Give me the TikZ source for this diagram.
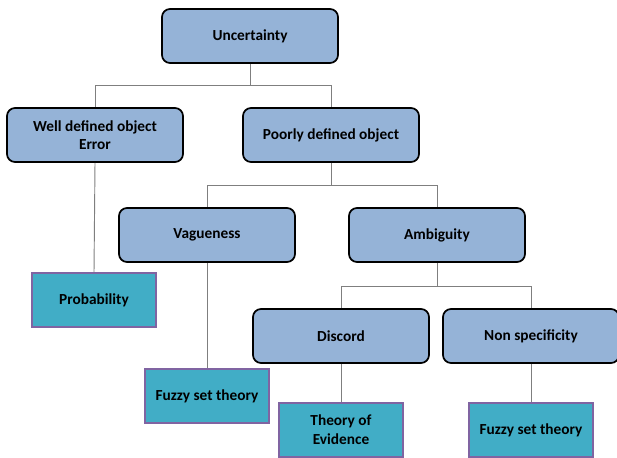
\documentclass[tikz,border=0pt]{standalone}
\usepackage{fontspec}
\setmainfont{Carlito}
\definecolor{boxblue}{HTML}{95B3D7}
\definecolor{boxteal}{HTML}{41ADC6}
\definecolor{boxpurple}{HTML}{8064A2}
\definecolor{linegray}{HTML}{7F7F7F}

\begin{document}
\begin{tikzpicture}[
    % 坐标单位按像素取, y 轴向下
    x=0.75pt, y=-0.75pt,
    % 概念节点:蓝色圆角框
    conceptbox/.style={
        rectangle,
        rounded corners=6pt,
        line width=1.3pt,
        draw=black,
        fill=boxblue,
        minimum width=132pt,
        minimum height=40.5pt,
        inner sep=2pt,
        align=center,
        font=\bfseries\fontsize{11.5}{14}\selectfont
        },
    % 理论节点:青色方框
    theorybox/.style={
        rectangle,
        line width=1pt,
        draw=boxpurple,
        fill=boxteal,
        minimum width=93pt,
        minimum height=40.5pt,
        inner sep=2pt,
        align=center,
        font=\bfseries\fontsize{11.5}{14}\selectfont
        },
    % 连线样式
    treeline/.style={draw=linegray, line width=0.7pt}
    ]
    \useasboundingbox (0,0) rectangle (617,457);
    % ========== 概念节点 ==========
    \foreach \name/\text/\x/\y in {unc/Uncertainty/250/36,
        well/{Well defined object\\Error}/95/135,
        poor/Poorly defined object/331/135,
        vag/Vagueness/207/235,
        amb/Ambiguity/437/235,
        disc/Discord/341/336,
        nons/Non specificity/531/336} {
        \node [conceptbox] (\name) at (\x, \y) {\text};
    }
    % ========== 理论节点 ==========
    \foreach \name/\text/\x/\y in {prob/Probability/94/300,
        fuzzyA/Fuzzy set theory/207/396,
        evid/{Theory of\\Evidence}/341/430,
        fuzzyB/Fuzzy set theory/531/430} {
        \node [theorybox] (\name) at (\x, \y) {\text};
    }
    % ========== 分支连线 ==========
    \foreach \parent/\child/\mid in {unc/well/85, unc/poor/85,
        poor/vag/185, poor/amb/185, amb/disc/286, amb/nons/286} {
        \draw [treeline] (\parent.south) -- (\parent.south |- 0, \mid) -| (\child.north);
    }
    % ========== 竖直连线 ==========
    \foreach \parent/\child in {well/prob, vag/fuzzyA, disc/evid, nons/fuzzyB} {
        \draw [treeline] (\parent.south) -- (\child.north);
    }
\end{tikzpicture}
\end{document}
